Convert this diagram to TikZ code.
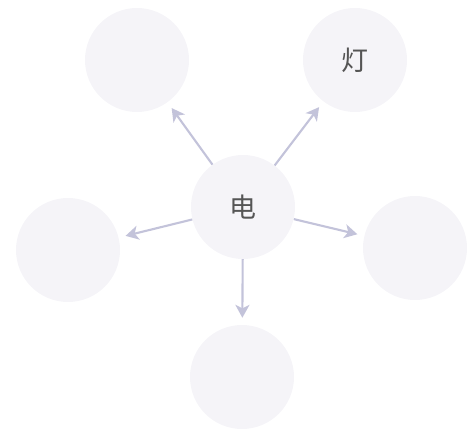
\documentclass[tikz,border=0pt]{standalone}
\usepackage{fontspec}
\newfontfamily\cjk{Noto Sans CJK SC}
\usetikzlibrary{arrows.meta}
\definecolor{ballfill}{HTML}{F5F4F8}
\definecolor{arrowgray}{HTML}{C3C3DA}
\definecolor{wordgray}{HTML}{555555}

\begin{document}
\begin{tikzpicture}[
	ball/.style={circle, fill=ballfill, minimum size=3.12cm, inner sep=0pt,
		font=\cjk\fontsize{23}{27}\selectfont, text=wordgray},
	link/.style={-{Stealth[length=11pt, width=12pt, inset=3pt]}, line width=1.8pt, arrowgray,
		shorten >=6pt}
]
	% Frame (468 x 435 px)
	\useasboundingbox (0,0) rectangle (14.04,13.05);
	% Circles
	\node[ball] (dian) at (7.29,6.84) {电};
	\node[ball] (tl) at (4.11,11.25) {};
	\node[ball] (deng) at (10.65,11.25) {灯};
	\node[ball] (left) at (2.04,5.55) {};
	\node[ball] (right) at (12.45,5.61) {};
	\node[ball] (down) at (7.26,1.74) {};
	% Arrows out of the centre
	\foreach \n in {tl, deng, left, right, down}{
		\draw[link] (dian) -- (\n);
	}
\end{tikzpicture}
\end{document}
